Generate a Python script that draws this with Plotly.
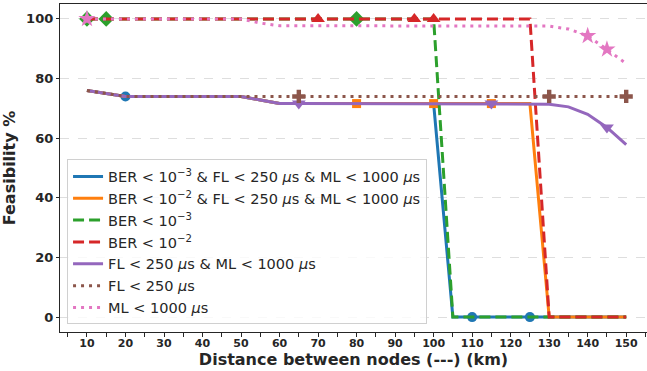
import plotly.graph_objects as go

distance_km = [10, 15, 20, 25, 30, 35, 40, 45, 50, 55, 60, 65, 70, 75, 80,
               85, 90, 95, 100, 105, 110, 115, 120, 125, 130, 135, 140, 145, 150]

ber3_fl_ml = [76, 75, 74, 74, 74, 74, 74, 74, 74, 72.8, 71.6, 71.6, 71.6, 71.6, 71.6,
              71.6, 71.6, 71.6, 71.6, 0, 0, 0, 0, 0, 0, 0, 0, 0, 0]
ber2_fl_ml = [76, 75, 74, 74, 74, 74, 74, 74, 74, 72.8, 71.6, 71.6, 71.6, 71.6, 71.6,
              71.6, 71.6, 71.6, 71.6, 71.6, 71.6, 71.6, 71.6, 71.6, 0, 0, 0, 0, 0]
ber3 = [100] * 19 + [0] * 10
ber2 = [100] * 24 + [0] * 5
fl_ml = [76, 75, 74, 74, 74, 74, 74, 74, 74, 72.8, 71.6, 71.6, 71.6, 71.6, 71.6,
         71.6, 71.6, 71.6, 71.6, 71.6, 71.6, 71.6, 71.6, 71.6, 71.4, 70.5, 68, 63.6, 57.8]
fl = [76, 75] + [74] * 27
ml = [100, 100, 100, 100, 100, 100, 100, 100, 100, 98.6, 97.7, 97.7, 97.7, 97.7, 97.7,
      97.7, 97.7, 97.7, 97.7, 97.7, 97.7, 97.7, 97.7, 97.7, 97.6, 96.6, 94.3, 89.8, 85]

x_ticks = [10, 20, 30, 40, 50, 60, 70, 80, 90, 100, 110, 120, 130, 140, 150]
y_ticks = [0, 20, 40, 60, 80, 100]

series = [
    ("BER < 10<sup>−3</sup> & FL < 250 <i>μ</i>s & ML < 1000 <i>μ</i>s", ber3_fl_ml,
     "#1f77b4", "solid", "circle", [2, 20, 23], 10),
    ("BER < 10<sup>−2</sup> & FL < 250 <i>μ</i>s & ML < 1000 <i>μ</i>s", ber2_fl_ml,
     "#ff7f0e", "solid", "square", [14, 18, 21], 9),
    ("BER < 10<sup>−3</sup>", ber3, "#2ca02c", "11px,5px", "diamond", [0, 1, 14], 12),
    ("BER < 10<sup>−2</sup>", ber2, "#d62728", "11px,5px", "triangle-up", [12, 17, 18], 12),
    ("FL < 250 <i>μ</i>s & ML < 1000 <i>μ</i>s", fl_ml, "#9467bd", "solid",
     "triangle-down", [11, 21, 27], 12),
    ("FL < 250 <i>μ</i>s", fl, "#8c564b", "3px,5px", "cross", [11, 24, 28], 11),
    ("ML < 1000 <i>μ</i>s", ml, "#e377c2", "3px,5px", "star", [0, 26, 27], 13),
]

fig = go.Figure()
for name, vals, color, dash, sym, idx, msize in series:
    fig.add_trace(go.Scatter(
        x=distance_km, y=vals, mode="lines", name=name,
        line=dict(color=color, width=3, dash=dash),
    ))
    fig.add_trace(go.Scatter(
        x=[distance_km[i] for i in idx], y=[vals[i] for i in idx],
        mode="markers", showlegend=False, hoverinfo="skip",
        marker=dict(symbol=sym, size=msize, color=color, line=dict(width=0)),
    ))

fig.update_layout(
    width=647, height=371,
    margin=dict(l=60, r=0, t=4, b=39, autoexpand=False),
    plot_bgcolor="white", paper_bgcolor="white",
    font=dict(family="DejaVu Sans", color="#262626"),
    legend=dict(
        x=0.012, y=0.023, xanchor="left", yanchor="bottom",
        bgcolor="rgba(255,255,255,0.8)", bordercolor="#d0d0d0", borderwidth=1,
        font=dict(size=14.5, color="#262626"), tracegroupgap=0,
    ),
    showlegend=True,
)
fig.update_xaxes(
    automargin=False,
    range=[3, 155.4], tickmode="array", tickvals=x_ticks,
    ticktext=[str(v) for v in x_ticks],
    tickfont=dict(size=11, weight="bold", color="#262626"),
    ticks="outside", ticklen=4, tickcolor="#262626", tickwidth=1,
    ticklabelstandoff=-3,
    minor=dict(dtick=5, tick0=5, ticks="outside", ticklen=4, tickcolor="#262626", showgrid=False),
    showline=True, linecolor="#262626", linewidth=1.3, mirror=True,
    showgrid=False, zeroline=False,
    title=dict(text="Distance between nodes (---) (km)",
               font=dict(size=16, weight="bold", color="#262626"), standoff=2),
)
fig.update_yaxes(
    automargin=False,
    range=[-5, 105], tickmode="array", tickvals=y_ticks,
    ticktext=[str(v) for v in y_ticks],
    tickfont=dict(size=13, weight="bold", color="#262626"),
    ticks="outside", ticklen=3, tickcolor="#262626", tickwidth=1,
    showline=True, linecolor="#262626", linewidth=1.3, mirror=False,
    showgrid=True, gridcolor="#dedede", gridwidth=0.8, griddash="dash",
    zeroline=False,
    title=dict(text="Feasibility %", font=dict(size=16, weight="bold", color="#262626")),
)

fig.write_html(
    "out.html",
    config={"displayModeBar": False},
    post_script="document.body.style.margin='0';document.body.style.overflow='hidden';",
)
